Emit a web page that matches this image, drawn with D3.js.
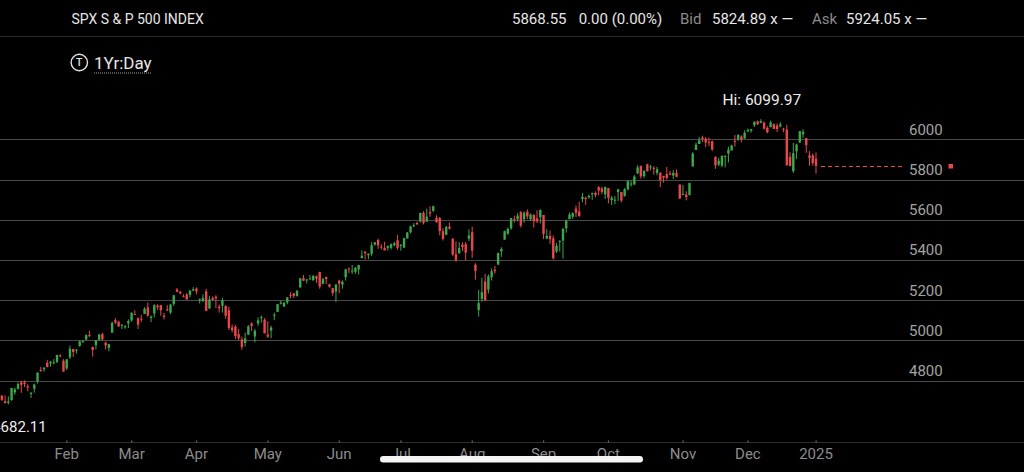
<!DOCTYPE html>
<html>
<head>
<meta charset="utf-8">
<script src="https://cdn.jsdelivr.net/npm/d3@7"></script>
<style>
  html, body { margin: 0; padding: 0; background: #000; }
  svg { display: block; }
  text { font-family: Roboto, "Noto Sans", sans-serif; }
</style>
</head>
<body>
<svg id="chart" width="1024" height="472"></svg>
<script>
// ---------------- DATA ----------------
const startDate = "2024-01-02";
const endDate = "2025-01-02";
const holidays = ["2024-01-01","2024-01-15","2024-02-19","2024-03-29","2024-05-27","2024-06-19","2024-07-04","2024-09-02","2024-11-28","2024-12-25","2025-01-01"];

const opens = [
 4745.20,4725.07,4697.42,4690.57,4703.70,4741.93,4759.94,4792.13,4791.18,4772.35,4739.13,4760.10,4796.28,4853.42,4856.80,4888.56,4886.66,4888.91,4892.95,4925.89,4899.19,
 4861.11,4916.06,4957.19,4950.16,4973.05,4995.16,5004.17,5026.83,4967.94,4976.44,5003.14,5031.13,4989.32,4963.03,5038.83,5100.92,5093.00,5074.60,5067.20,5085.36,
 5098.51,5130.99,5110.52,5108.03,5132.38,5164.46,5111.96,5134.30,5173.49,5175.14,5123.31,5154.77,5139.09,5181.69,5253.43,5242.48,5219.52,5228.85,5226.31,5248.03,
 5257.97,5204.29,5194.37,5244.05,5158.95,5211.37,5217.03,5167.88,5172.95,5171.51,5149.67,5064.59,5068.97,5031.52,5005.44,4987.33,5028.85,5084.86,5019.88,5084.65,5114.13,5103.78,
 5029.03,5049.32,5122.78,5142.42,5187.20,5168.98,5189.03,5225.49,5233.08,5221.10,5263.26,5310.07,5303.10,5305.35,5298.69,5319.28,5340.26,5281.45,5315.91,5278.73,5259.77,5243.21,
 5297.15,5278.24,5314.48,5357.80,5343.81,5341.22,5353.00,5409.13,5441.93,5424.08,5431.11,5476.15,5499.99,5466.77,5459.58,5460.73,5460.71,5473.59,5498.42,
 5471.08,5461.84,5507.44,5537.91,5572.75,5584.24,5591.26,5635.21,5590.76,5638.16,5644.09,5610.07,5608.56,5543.37,5525.72,5565.30,5505.84,5428.70,5433.67,5476.55,5478.73,5505.59,
 5537.84,5376.63,5151.14,5206.42,5293.13,5252.57,5314.78,5351.88,5376.98,5442.99,5501.13,5530.50,5557.23,5602.88,5603.09,5637.77,5602.89,5639.66,5602.89,5624.51,5607.30,5612.74,
 5623.89,5506.68,5520.08,5507.33,5442.07,5490.51,5496.42,5557.48,5603.34,5615.14,5655.51,5641.68,5702.63,5709.33,5711.90,5727.30,5733.65,5762.22,5755.36,5726.52,
 5757.73,5698.19,5698.93,5737.72,5737.80,5719.14,5751.80,5778.36,5775.09,5829.81,5866.74,5816.58,5875.62,5859.43,5857.82,5832.70,5834.50,5817.80,5826.75,5830.20,5819.68,5832.65,5775.34,
 5723.22,5725.15,5722.43,5864.89,5947.21,5976.76,6008.86,6003.60,5985.75,5989.68,5912.79,5874.17,5869.55,5914.09,5929.46,5944.36,5992.28,6000.03,6014.11,6003.98,
 6040.11,6042.97,6069.39,6089.03,6081.38,6083.01,6057.59,6060.15,6074.29,6068.17,6063.79,6052.55,6047.65,5912.71,5842.00,5940.25,5984.63,6024.97,6006.17,5920.67,5919.74,5903.26
];
const highs = [
 4754.33,4729.29,4726.78,4721.49,4764.54,4765.47,4790.80,4798.50,4802.40,4782.34,4744.23,4785.79,4842.07,4868.41,4866.48,4903.68,4898.15,4906.69,4929.31,4931.09,4906.75,
 4906.97,4975.29,4957.19,4957.77,4999.89,5000.40,5030.06,5048.39,4969.34,5002.52,5032.72,5038.70,4993.71,4983.21,5094.39,5111.06,5097.66,5080.69,5077.37,5104.99,
 5140.33,5149.67,5114.54,5127.97,5165.62,5189.26,5124.66,5179.87,5179.14,5176.85,5136.86,5175.60,5180.31,5226.19,5261.10,5246.09,5229.09,5235.16,5249.26,5264.85,
 5263.95,5208.34,5228.75,5256.59,5222.18,5219.57,5224.81,5178.43,5211.78,5175.03,5168.43,5079.84,5077.96,5056.66,5019.02,5038.84,5076.12,5089.48,5057.75,5114.62,5123.49,5110.83,
 5096.12,5073.21,5139.12,5181.00,5200.23,5191.95,5215.30,5239.66,5237.26,5250.37,5311.76,5325.49,5305.45,5325.32,5324.32,5323.18,5341.88,5311.65,5315.91,5282.27,5260.21,5280.33,
 5302.11,5298.80,5354.16,5362.35,5375.08,5365.79,5375.95,5447.25,5441.93,5432.39,5488.50,5490.38,5505.53,5478.31,5490.66,5472.88,5483.14,5490.81,5523.64,
 5479.55,5509.69,5539.27,5570.33,5583.11,5590.75,5635.39,5642.45,5655.56,5666.94,5669.67,5622.49,5614.05,5557.50,5570.36,5585.34,5508.04,5491.59,5488.32,5487.74,5489.46,5551.51,
 5566.16,5383.89,5250.89,5312.34,5330.64,5328.03,5358.84,5371.20,5436.50,5463.22,5546.23,5561.98,5608.30,5620.51,5632.68,5643.22,5641.82,5651.62,5631.18,5627.03,5646.95,5651.37,
 5623.89,5552.99,5546.30,5522.47,5484.20,5497.91,5560.41,5600.71,5636.27,5636.05,5670.81,5689.75,5733.57,5715.14,5725.36,5735.32,5741.03,5767.37,5763.78,5765.14,
 5757.73,5719.14,5718.78,5753.00,5739.34,5757.60,5796.80,5795.03,5822.13,5871.41,5870.36,5846.52,5878.46,5872.17,5866.92,5863.04,5834.85,5817.80,5862.82,5842.92,5847.19,5850.94,5775.34,
 5772.52,5741.43,5783.44,5936.14,5983.84,6012.45,6017.31,6009.92,6008.19,5993.88,5915.25,5908.12,5920.90,5920.67,5963.17,5972.90,6020.75,6025.42,6020.16,6044.17,
 6053.58,6052.66,6089.84,6092.65,6099.97,6088.51,6065.40,6092.59,6079.68,6078.58,6085.19,6057.68,6070.67,5935.52,5982.06,5978.25,6040.10,6049.75,6006.17,5940.79,5929.74,5935.09
];
const lows = [
 4722.67,4699.71,4687.53,4682.11,4699.82,4730.35,4756.20,4739.58,4768.98,4747.12,4714.82,4740.57,4785.87,4844.05,4844.37,4865.94,4869.34,4881.47,4887.40,4916.27,4845.15,
 4853.52,4907.99,4918.09,4934.88,4969.05,4987.09,5004.17,5016.83,4920.31,4956.45,4999.44,4999.52,4955.02,4946.00,5038.83,5081.46,5068.91,5057.29,5058.35,5061.89,
 5094.16,5127.18,5056.82,5092.22,5131.59,5117.50,5091.14,5114.48,5151.88,5123.30,5104.35,5145.47,5131.59,5171.55,5240.66,5229.87,5216.09,5203.42,5213.92,5245.82,
 5229.20,5184.05,5194.37,5146.06,5157.21,5197.35,5160.78,5138.70,5138.77,5107.94,5052.47,5039.83,5007.25,5001.89,4953.56,4969.40,5027.96,5047.02,4990.58,5073.14,5088.65,5035.31,
 5013.45,5011.05,5101.22,5142.42,5178.96,5165.86,5180.41,5209.68,5211.16,5217.98,5263.26,5296.19,5283.59,5302.40,5297.87,5286.01,5256.93,5278.39,5280.89,5262.70,5222.10,5191.68,
 5234.32,5257.63,5297.64,5335.36,5331.33,5331.52,5327.25,5409.13,5402.51,5403.75,5420.40,5471.32,5455.56,5452.03,5447.59,5446.56,5451.87,5467.54,5451.12,
 5446.53,5458.43,5507.42,5531.63,5562.51,5574.57,5586.44,5576.53,5590.44,5614.75,5639.02,5584.81,5522.81,5497.04,5523.04,5550.90,5419.98,5390.95,5430.70,5444.44,5398.04,5493.75,
 5410.42,5302.03,5119.26,5193.56,5195.54,5233.85,5298.32,5331.83,5376.98,5415.83,5501.13,5525.17,5550.74,5585.50,5591.57,5560.95,5585.16,5602.34,5593.48,5560.95,5583.71,5581.79,
 5504.33,5503.66,5480.34,5402.62,5434.49,5441.72,5406.96,5535.50,5601.65,5604.53,5614.05,5615.08,5686.42,5674.49,5704.22,5698.99,5712.06,5721.01,5727.34,5703.53,
 5681.28,5674.00,5677.37,5693.65,5686.85,5714.56,5745.02,5764.76,5775.09,5829.81,5804.48,5808.34,5840.25,5846.11,5824.17,5821.17,5762.41,5784.92,5799.98,5823.08,5802.35,5811.28,5702.86,
 5723.22,5696.51,5722.10,5864.89,5947.21,5976.76,5986.69,5960.08,5965.91,5942.28,5853.01,5865.95,5860.22,5860.09,5884.92,5944.36,5963.91,5992.27,5984.87,6003.98,
 6035.33,6033.39,6061.06,6070.86,6079.98,6048.63,6029.89,6060.15,6051.25,6035.77,6059.14,6035.19,5867.79,5866.07,5832.30,5902.57,5981.44,6007.37,5932.95,5869.16,5868.86,5829.53
];
const closes = [
 4742.83,4704.81,4688.68,4697.24,4763.54,4756.50,4783.45,4780.24,4783.83,4765.98,4739.21,4780.94,4839.81,4850.43,4864.60,4868.55,4894.16,4890.97,4927.93,4924.97,4845.65,
 4906.19,4958.61,4942.81,4954.23,4995.06,4997.91,5026.61,5021.84,4953.17,5000.62,5029.73,5005.57,4975.51,4981.80,5087.03,5088.80,5069.53,5078.18,5069.76,5096.27,
 5137.08,5130.95,5078.65,5104.76,5157.36,5123.69,5117.94,5175.27,5165.31,5150.48,5117.09,5149.42,5178.51,5224.62,5241.53,5234.18,5218.19,5203.58,5248.49,5254.35,
 5243.77,5205.81,5211.49,5147.21,5204.34,5202.39,5209.91,5160.64,5199.06,5123.41,5061.82,5051.41,5022.21,5011.12,4967.23,5010.60,5070.55,5071.63,5048.42,5099.96,5116.17,5035.69,
 5018.39,5064.20,5127.79,5180.74,5187.70,5187.67,5214.08,5222.68,5221.42,5246.68,5308.15,5297.10,5303.27,5308.13,5321.41,5307.01,5267.84,5304.72,5306.04,5266.95,5235.48,5277.51,
 5283.40,5291.34,5354.03,5352.96,5346.99,5360.79,5375.32,5421.03,5433.74,5431.60,5473.23,5487.03,5473.17,5464.62,5447.87,5469.30,5477.90,5482.87,5460.48,
 5475.09,5509.01,5537.02,5567.19,5572.85,5576.98,5633.91,5584.54,5615.35,5631.22,5667.20,5588.27,5544.59,5505.00,5564.41,5555.74,5427.13,5399.22,5459.10,5463.54,5436.44,5522.30,
 5446.68,5346.56,5186.33,5240.03,5199.50,5319.31,5344.16,5344.39,5434.43,5455.21,5543.22,5554.25,5608.25,5597.12,5620.85,5570.64,5634.61,5616.84,5625.80,5592.18,5591.96,5648.40,
 5528.93,5520.07,5503.41,5408.42,5471.05,5495.52,5554.13,5595.76,5626.02,5633.09,5634.58,5618.26,5713.64,5702.55,5718.57,5732.93,5722.26,5745.37,5738.17,5762.48,
 5708.75,5709.54,5699.94,5751.07,5695.94,5751.13,5792.04,5780.05,5815.03,5859.85,5815.26,5842.47,5841.47,5864.67,5853.98,5851.20,5797.42,5809.86,5808.12,5823.52,5832.92,5813.67,5705.45,
 5728.80,5712.69,5782.76,5929.04,5973.10,5995.54,6001.35,5983.99,5985.38,5949.17,5870.62,5893.62,5916.98,5917.11,5948.71,5969.34,5987.37,6021.63,5998.74,6032.38,
 6047.15,6049.88,6086.49,6075.11,6090.27,6052.85,6034.91,6084.19,6051.25,6051.09,6074.08,6050.61,5872.16,5867.08,5930.85,5974.07,6040.04,6037.59,5970.84,5906.94,5881.63,5868.55
];

const yTicks = [4800, 5000, 5200, 5400, 5600, 5800, 6000];
const monthStarts = ["2024-02-01","2024-03-01","2024-04-01","2024-05-01","2024-06-01","2024-07-01","2024-08-01","2024-09-01","2024-10-01","2024-11-01","2024-12-01","2025-01-01"];
const monthLabels = ["Feb","Mar","Apr","May","Jun","Jul","Aug","Sep","Oct","Nov","Dec","2025"];

const titleText = "SPX S & P 500 INDEX";
const quote = { last: "5868.55", change: "0.00 (0.00%)", bid: "5824.89 x \u2014", ask: "5924.05 x \u2014" };
const rangeText = "1Yr:Day";

// ---------------- TRADING DAYS ----------------
const parse = d3.utcParse("%Y-%m-%d");
const fmt = d3.utcFormat("%Y-%m-%d");
const holidaySet = new Set(holidays);
const dates = d3.utcDay.range(parse(startDate), d3.utcDay.offset(parse(endDate), 1))
  .filter(d => d.getUTCDay() !== 0 && d.getUTCDay() !== 6 && !holidaySet.has(fmt(d)));
const idx = d3.range(Math.min(dates.length, closes.length));

// ---------------- DRAW ----------------
const W = 1024, H = 472;
const svg = d3.select("#chart");

const x = d3.scaleLinear().domain([0, 252]).range([-1.4, 816]);
const y = d3.scaleLinear().domain([4800, 6000]).range([380.7, 139.3]);

const GREEN = "#3aa84b", RED = "#e8474c";

// header
svg.append("line").attr("x1", 0).attr("x2", W).attr("y1", 36.5).attr("y2", 36.5)
  .attr("stroke", "#2c2c2c").attr("stroke-width", 1);
svg.append("text").attr("x", 71.5).attr("y", 24).attr("fill", "#e6e6e6")
  .attr("font-size", 14).text(titleText);
const hdr = [
  {t: quote.last, x: 512, c: "#e6e6e6"},
  {t: quote.change, x: 578.7, c: "#e6e6e6"},
  {t: "Bid", x: 680, c: "#8a8a8a"},
  {t: quote.bid, x: 712, c: "#e6e6e6"},
  {t: "Ask", x: 812, c: "#8a8a8a"},
  {t: quote.ask, x: 846, c: "#e6e6e6"}
];
svg.selectAll("text.hdr").data(hdr).join("text").attr("class", "hdr")
  .attr("x", d => d.x).attr("y", 24.3).attr("fill", d => d.c).attr("font-size", 15).text(d => d.t);

// range selector
svg.append("circle").attr("cx", 79.3).attr("cy", 62.5).attr("r", 8.2)
  .attr("fill", "none").attr("stroke", "#e0e0e0").attr("stroke-width", 1.4);
svg.append("text").attr("x", 79.3).attr("y", 66.4).attr("text-anchor", "middle")
  .attr("fill", "#e0e0e0").attr("font-size", 10.5).attr("font-weight", 500).text("T");
svg.append("text").attr("x", 94).attr("y", 69).attr("fill", "#e6e6e6")
  .attr("font-size", 17).text(rangeText);
svg.append("line").attr("x1", 94).attr("x2", 152).attr("y1", 73).attr("y2", 73)
  .attr("stroke", "#9a9a9a").attr("stroke-width", 1).attr("stroke-dasharray", "1,1");

// gridlines + y labels
svg.append("g").selectAll("line").data(yTicks).join("line")
  .attr("x1", 0).attr("x2", W).attr("y1", d => Math.round(y(d)) + 0.5).attr("y2", d => Math.round(y(d)) + 0.5)
  .attr("stroke", "#4a4a4a").attr("stroke-width", 1.2);
svg.append("g").selectAll("text").data(yTicks).join("text")
  .attr("x", 909).attr("y", d => y(d) - 4.7).attr("fill", "#a3a3a3").attr("font-size", 15)
  .text(d => d);

// bottom axis
svg.append("line").attr("x1", 0).attr("x2", W).attr("y1", 442.5).attr("y2", 442.5)
  .attr("stroke", "#2e2e2e").attr("stroke-width", 1);
const monthIdx = monthStarts.map(m => d3.bisectLeft(dates, parse(m)));
svg.append("g").selectAll("rect").data(monthIdx).join("rect")
  .attr("x", i => x(i) - 0.5).attr("y", 440.5).attr("width", 1.2).attr("height", 2)
  .attr("fill", "#6a6a6a");
svg.append("g").selectAll("text").data(monthIdx).join("text")
  .attr("x", i => x(i)).attr("y", 458.5).attr("text-anchor", "middle")
  .attr("fill", "#8c8c8c").attr("font-size", 15)
  .text((i, k) => monthLabels[k]);

// candles
const col = i => closes[i] >= opens[i] ? GREEN : RED;
const cg = svg.append("g");
cg.selectAll("line").data(idx).join("line")
  .attr("x1", i => x(i)).attr("x2", i => x(i))
  .attr("y1", i => y(highs[i])).attr("y2", i => y(lows[i]))
  .attr("stroke", col).attr("stroke-width", 1);
cg.selectAll("rect").data(idx).join("rect")
  .attr("x", i => x(i) - 1.2).attr("width", 2.4)
  .attr("y", i => y(Math.max(opens[i], closes[i])))
  .attr("height", i => Math.max(1, Math.abs(y(opens[i]) - y(closes[i]))))
  .attr("fill", col);

// last price dashed line & marker
const lastI = idx[idx.length - 1];
const lastY = Math.round(y(closes[lastI])) + 0.5;
svg.append("line").attr("x1", x(lastI) + 5).attr("x2", 903).attr("y1", lastY).attr("y2", lastY)
  .attr("stroke", RED).attr("stroke-width", 1.2).attr("stroke-dasharray", "4,3");
svg.append("rect").attr("x", 948.5).attr("y", lastY - 2.5).attr("width", 4.5).attr("height", 4.5).attr("fill", RED);

// hi / lo labels
const hiI = d3.maxIndex(highs), loI = d3.minIndex(lows);
svg.append("text").attr("x", x(hiI) + 1).attr("y", y(highs[hiI]) - 14.5).attr("text-anchor", "middle")
  .attr("fill", "#ececec").attr("font-size", 15.5).text("Hi: " + highs[hiI].toFixed(2));
svg.append("text").attr("x", 46.7).attr("y", y(lows[loI]) + 27.5).attr("text-anchor", "end")
  .attr("fill", "#ececec").attr("font-size", 15).text(lows[loI].toFixed(2));

// home indicator
svg.append("rect").attr("x", 380).attr("y", 456).attr("width", 263).attr("height", 6.5)
  .attr("rx", 3.25).attr("fill", "#f4f4f4");
</script>
</body>
</html>
